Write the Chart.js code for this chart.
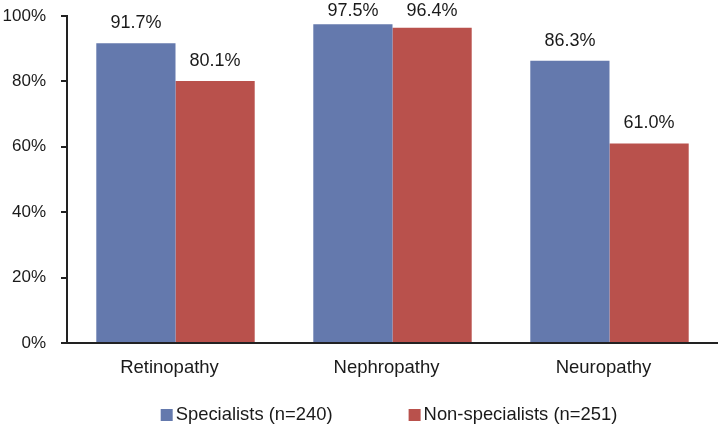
<!DOCTYPE html>
<html>
<head>
<meta charset="utf-8">
<script src="https://cdn.jsdelivr.net/npm/chart.js@4/dist/chart.umd.min.js"></script>
<style>
html,body{margin:0;padding:0;background:#fff;}
#wrap{width:718px;height:427px;}
</style>
</head>
<body>
<div id="wrap"><canvas id="c" width="718" height="427"></canvas></div>
<script>
const categories = ["Retinopathy", "Nephropathy", "Neuropathy"];
const specialists = [91.7, 97.5, 86.3];
const nonSpecialists = [80.1, 96.4, 61.0];
const seriesNames = ["Specialists (n=240)", "Non-specialists (n=251)"];
const seriesColors = ['#6479AD', '#B9514C'];
const yTicks = [0, 20, 40, 60, 80, 100];

const FONT = "'Liberation Sans', Arial, sans-serif";

const labelPlugin = {
  id: 'barLabels',
  afterDatasetsDraw(chart) {
    const ctx = chart.ctx;
    ctx.save();
    ctx.font = "18px " + FONT;
    ctx.fillStyle = "#1a1a1a";
    ctx.textAlign = "center";
    ctx.textBaseline = "middle";
    chart.data.datasets.forEach((ds, i) => {
      const meta = chart.getDatasetMeta(i);
      meta.data.forEach((bar, j) => {
        const y = Math.max(bar.y - 20, 11);
        ctx.fillText(ds.data[j].toFixed(1) + "%", bar.x, y);
      });
    });
    ctx.restore();
  }
};

// Legend drawn from the dataset labels/colours, laid out like the original
const legendPlugin = {
  id: 'customLegend',
  afterDraw(chart) {
    const ctx = chart.ctx;
    ctx.save();
    ctx.font = "18.4px " + FONT;
    ctx.textBaseline = "middle";
    ctx.textAlign = "left";
    const box = 12, gapText = 3, gapItem = 76;
    const items = chart.data.datasets.map(ds => ({ text: ds.label, color: ds.backgroundColor, w: box + gapText + ctx.measureText(ds.label).width }));
    const total = items.reduce((s, it) => s + it.w, 0) + gapItem * (items.length - 1);
    let x = 389 - total / 2;
    const y = 415;
    items.forEach(it => {
      ctx.fillStyle = it.color;
      ctx.fillRect(x, y - box / 2, box, box);
      ctx.fillStyle = "#1a1a1a";
      ctx.fillText(it.text, x + box + gapText, y);
      x += it.w + gapItem;
    });
    ctx.restore();
  }
};

new Chart(document.getElementById('c'), {
  type: 'bar',
  data: {
    labels: categories,
    datasets: [
      { label: seriesNames[0], data: specialists, backgroundColor: seriesColors[0], categoryPercentage: 0.73, barPercentage: 1.0 },
      { label: seriesNames[1], data: nonSpecialists, backgroundColor: seriesColors[1], categoryPercentage: 0.73, barPercentage: 1.0 }
    ]
  },
  options: {
    responsive: false,
    animation: false,
    layout: { padding: { top: 16, right: 0, left: 0, bottom: 44 } },
    plugins: {
      tooltip: { enabled: false },
      legend: { display: false }
    },
    scales: {
      x: {
        afterFit(axis) { axis.height = 40; axis.paddingLeft = 0; axis.paddingRight = 0; },
        grid: { display: false, drawTicks: false },
        border: { display: true, color: '#222', width: 2 },
        ticks: { font: { family: FONT, size: 18.5 }, color: '#1a1a1a', padding: 14, labelOffset: -6 }
      },
      y: {
        min: 0, max: 100,
        afterBuildTicks(axis) { axis.ticks = yTicks.map(v => ({ value: v })); },
        afterFit(axis) { axis.width = 67; axis.paddingTop = 0; axis.paddingBottom = 0; },
        grid: { drawOnChartArea: false, drawTicks: true, tickLength: 6, color: '#222', lineWidth: 2 },
        border: { display: true, color: '#222', width: 2 },
        ticks: { font: { family: FONT, size: 17 }, color: '#1a1a1a', padding: 15, callback: v => v + '%' }
      }
    }
  },
  plugins: [labelPlugin, legendPlugin]
});
</script>
</body>
</html>
